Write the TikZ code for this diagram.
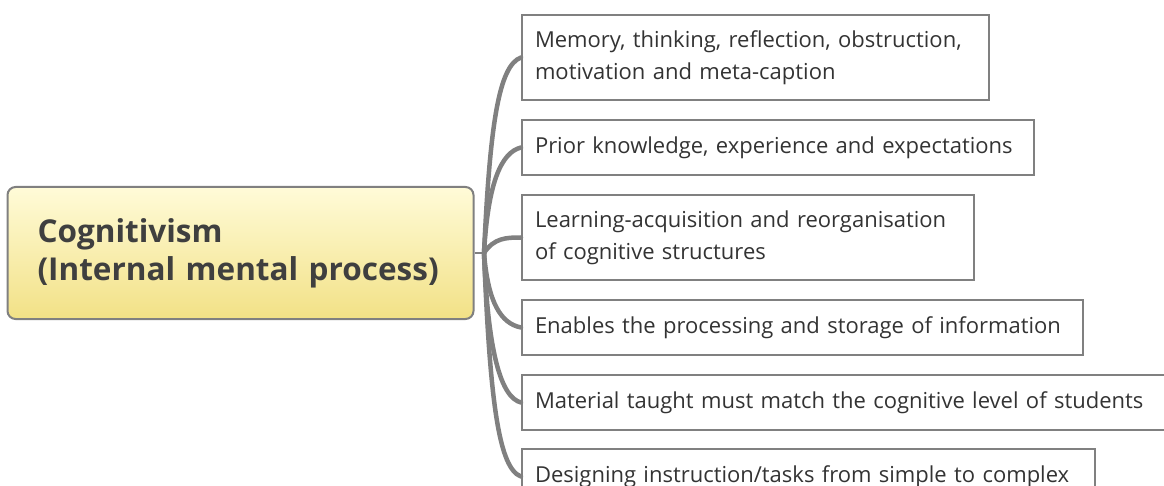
\documentclass[tikz,border=0pt]{standalone}
\usepackage{fontspec}
\setmainfont{Open Sans}
\usetikzlibrary{positioning}
\usepackage{xcolor}
\definecolor{linegray}{HTML}{808080}
\definecolor{inkgray}{HTML}{333333}
\definecolor{titlegray}{HTML}{3F3F3F}
\definecolor{paleyellow}{HTML}{FFFBD8}
\definecolor{goldyellow}{HTML}{F2E186}
\tikzset{
  topic/.style={draw=linegray,line width=2pt,rounded corners=8pt,top color=paleyellow,bottom color=goldyellow,align=left,text width=406pt,inner xsep=30pt,minimum height=132pt,text=titlegray,font=\fontsize{31.5}{38}\selectfont\bfseries},
  leaf/.style={draw=linegray,line width=2pt,anchor=north west,align=left,inner xsep=13pt,inner ysep=4pt,minimum height=55pt,text=inkgray,font=\fontsize{22}{32}\selectfont},
  twoline/.style={leaf,minimum height=85pt},
  branch/.style={draw=linegray,line width=4.5pt,line cap=round}
}
\begin{document}
\begin{tikzpicture}[x=1pt,y=-1pt]
  \useasboundingbox (0,0) rectangle (1164,486);
  \node[topic] (cog) at (240.5,253) {Cognitivism\\(Internal mental process)};
  \coordinate (root) at (484,253);
  \node[twoline,text width=441pt] (mem) at (521,14) {Memory, thinking, reflection, obstruction,\\motivation and meta-caption};
  \node[leaf,text width=486pt,below=18pt of mem.south west,anchor=north west] (prior) {Prior knowledge, experience and expectations};
  \node[twoline,text width=426pt,below=18pt of prior.south west,anchor=north west] (learn) {Learning-acquisition and reorganisation\\of cognitive structures};
  \node[leaf,text width=535pt,below=18pt of learn.south west,anchor=north west] (enable) {Enables the processing and storage of information};
  \node[leaf,text width=618pt,below=18pt of enable.south west,anchor=north west] (match) {Material taught must match the cognitive level of students};
  \node[leaf,text width=547pt,below=17pt of match.south west,anchor=north west] (design) {Designing instruction/tasks from simple to complex};
  \draw[linegray,line width=1.5pt] (cog.east) -- (root);
  \draw[branch] (root) .. controls +(6,-130) and +(-22,8) .. (mem.west);
  \draw[branch] (root) .. controls +(4,-70) and +(-20,5) .. (prior.west);
  \draw[branch] (root) .. controls +(10,-15) and +(-15,0) .. (learn.west);
  \draw[branch] (root) .. controls +(4,50) and +(-20,-4) .. (enable.west);
  \draw[branch] (root) .. controls +(4,100) and +(-20,-5) .. (match.west);
  \draw[branch] (root) .. controls +(6,150) and +(-22,-8) .. (design.west);
\end{tikzpicture}
\end{document}
